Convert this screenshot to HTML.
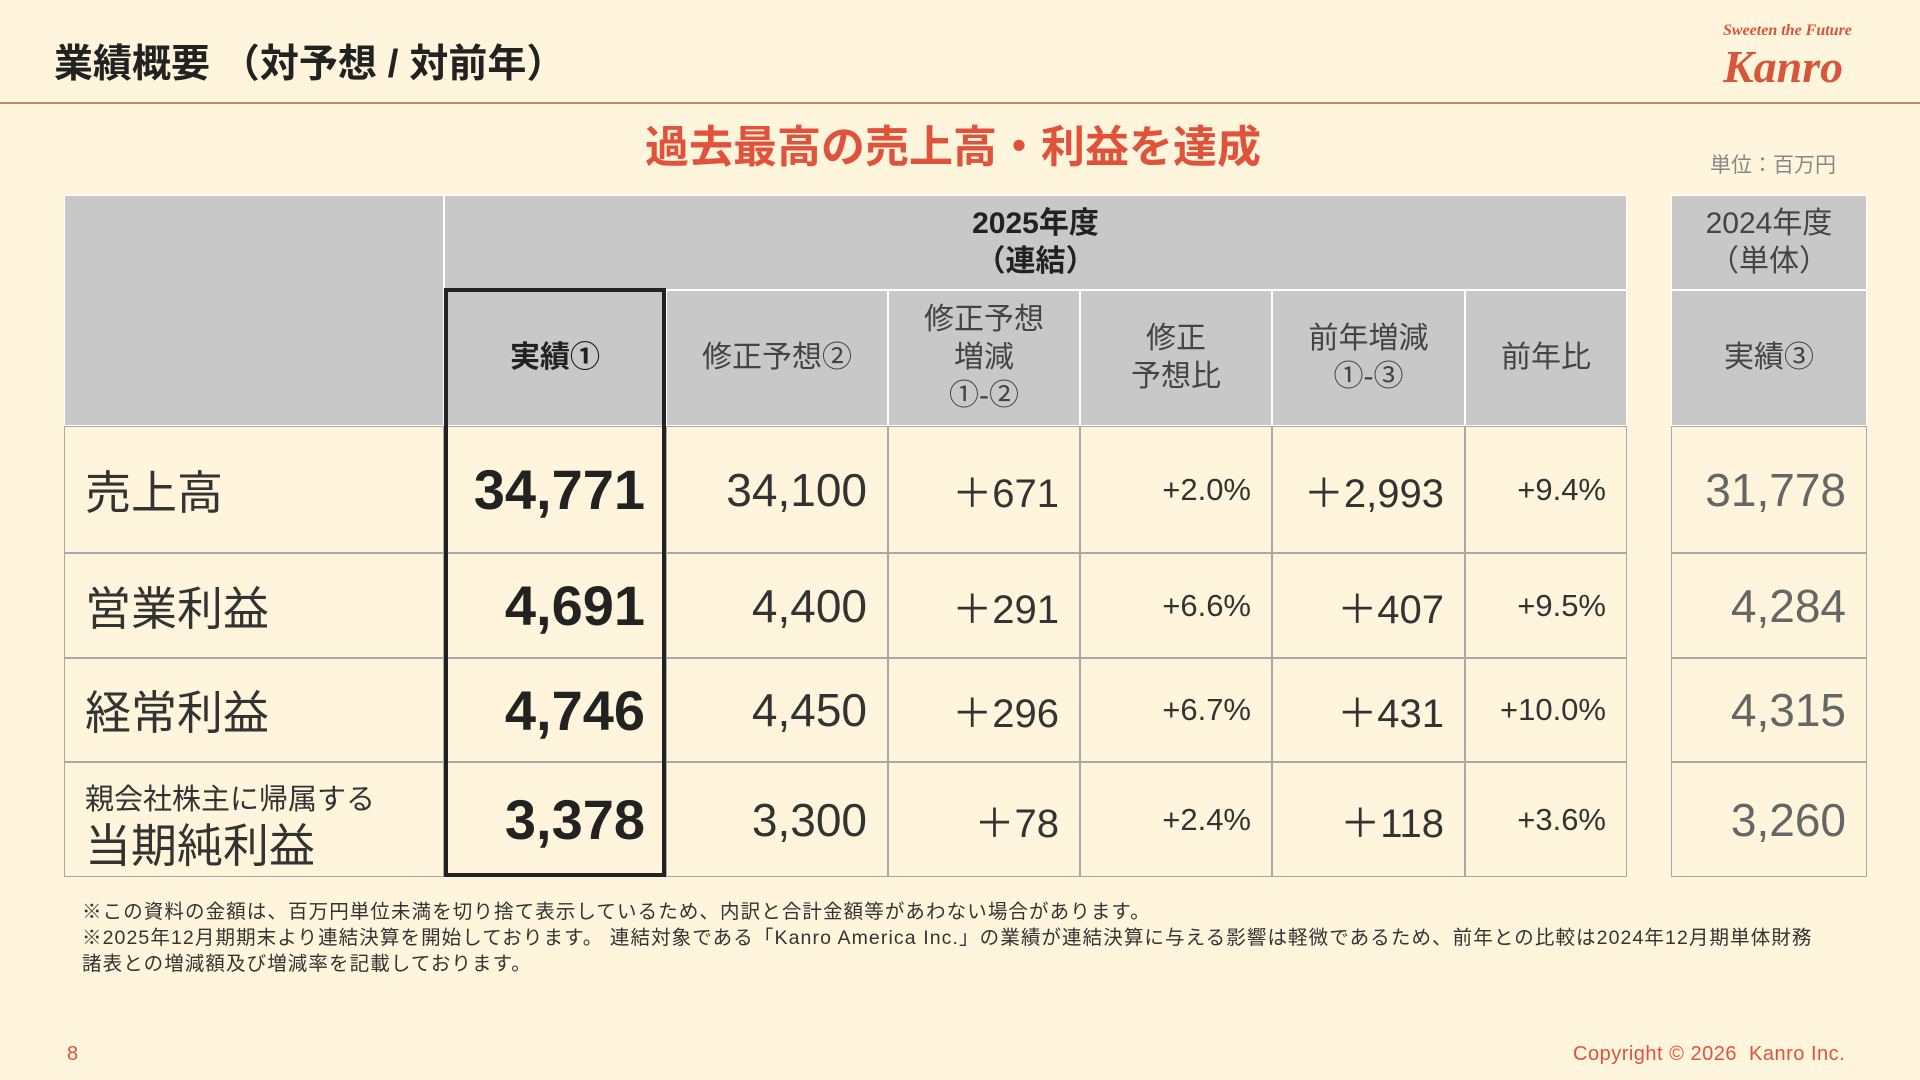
<!DOCTYPE html>
<html><head><meta charset="utf-8"><style>
body{margin:0;width:1920px;height:1080px;background:#fff5dc;position:relative;overflow:hidden;font-family:"Liberation Sans","Noto Sans CJK JP",sans-serif;color:#333}
.a{position:absolute}
.c{position:absolute;box-sizing:border-box;display:flex;align-items:center;justify-content:flex-end;border:1px solid #a9a9a9;padding-right:20px}
.h{background:#c8c8c8;justify-content:center;text-align:center;padding:0;font-size:30px;line-height:38px;color:#444;border-color:#fff}
</style></head><body>
<div class="a" style="left:54px;top:33px;font-size:39px;font-weight:bold;color:#222">業績概要 （対予想 / 対前年）</div>
<div class="a" style="left:1723px;top:22px;font-size:16px;font-weight:bold;font-style:italic;color:#d9553a;font-family:'Liberation Serif',serif">Sweeten the Future</div>
<div class="a" style="left:1723px;top:40px;font-size:46px;font-weight:bold;font-style:italic;color:#d9553a;font-family:'Liberation Serif',serif">Kanro</div>
<div class="a" style="left:0;top:102px;width:1920px;height:2px;background:#c08868"></div>
<div class="a" style="left:0;width:1906px;text-align:center;top:111px;font-size:44px;font-weight:bold;color:#e0533a">過去最高の売上高・利益を達成</div>
<div class="a" style="left:1710px;top:149px;font-size:21px;color:#888">単位：百万円</div>
<div id="t"></div>
<div class="a" style="left:82px;top:899px;font-size:19.5px;line-height:26px;color:#333;width:1820px;letter-spacing:1.1px;white-space:nowrap">※この資料の金額は、百万円単位未満を切り捨て表示しているため、内訳と合計金額等があわない場合があります。<br>※2025年12月期期末より連結決算を開始しております。 連結対象である「Kanro America Inc.」の業績が連結決算に与える影響は軽微であるため、前年との比較は2024年12月期単体財務<br>諸表との増減額及び増減率を記載しております。</div>
<div class="a" style="left:67px;top:1043px;font-size:20px;color:#e0533a">8</div>
<div class="a" style="left:1573px;top:1043px;font-size:20px;color:#e0533a;letter-spacing:0.5px">Copyright © 2026&nbsp; Kanro Inc.</div>
<script>
const rowLabels=["売上高","営業利益","経常利益","当期純利益"];
const actual=["34,771","4,691","4,746","3,378"];
const forecast=["34,100","4,400","4,450","3,300"];
const diffFc=["＋671","＋291","＋296","＋78"];
const ratioFc=["+2.0%","+6.6%","+6.7%","+2.4%"];
const diffPy=["＋2,993","＋407","＋431","＋118"];
const ratioPy=["+9.4%","+9.5%","+10.0%","+3.6%"];
const prev=["31,778","4,284","4,315","3,260"];
const X=[64,444,666,888,1080,1272,1465,1627];
const Y=[426,553,658,762,877];
const t=document.getElementById('t');
function cell(x,y,w,h,html,cls,style,name){const d=document.createElement('div');d.className='c '+(cls||'');
d.style.cssText=`left:${x}px;top:${y}px;width:${w}px;height:${h}px;`+(style||'');d.innerHTML=html;


t.appendChild(d);}
cell(64,195,380,231,'','h','','header-blank');
cell(444,195,1183,95,'<b style="color:#222">2025年度<br>（連結）</b>','h','','header-2025');
cell(1671,195,196,95,'2024年度<br>（単体）','h','','header-2024');
const hd=['<b style="color:#222">実績①</b>','修正予想②','修正予想<br>増減<br>①-②','修正<br>予想比','前年増減<br>①-③','前年比'];
for(let i=0;i<6;i++)cell(X[i+1],290,X[i+2]-X[i+1],136,hd[i],'h','','col-header-'+i);
cell(1671,290,196,136,'実績③','h','','col-header-prev');
const cols=[[actual,'font-size:56px;font-weight:bold;color:#222'],[forecast,'font-size:46px'],[diffFc,'font-size:40px'],[ratioFc,'font-size:31px'],[diffPy,'font-size:40px'],[ratioPy,'font-size:31px']];
for(let r=0;r<4;r++){const y=Y[r],h=Y[r+1]-Y[r];
 const lab=r==3?'<div style="line-height:46px"><span style="font-size:29px">親会社株主に帰属する</span><br><span style="font-size:46px">当期純利益</span></div>':rowLabels[r];
 cell(64,y,380,h,lab,'','justify-content:flex-start;padding-left:20px;font-size:46px;color:#333','row-label-'+r);
 for(let c=0;c<6;c++)cell(X[c+1],y,X[c+2]-X[c+1],h,cols[c][0][r],'',cols[c][1]+(c==0?'':';color:#333'),'value-'+r+'-'+c);
 cell(1671,y,196,h,prev[r],'','font-size:46px;color:#666','prev-'+r);
}
const b=document.createElement('div');b.className='a';b.style.cssText='left:444px;top:288px;width:222px;height:589px;border:4px solid #222;box-sizing:border-box';


t.appendChild(b);
</script>
</body></html>
